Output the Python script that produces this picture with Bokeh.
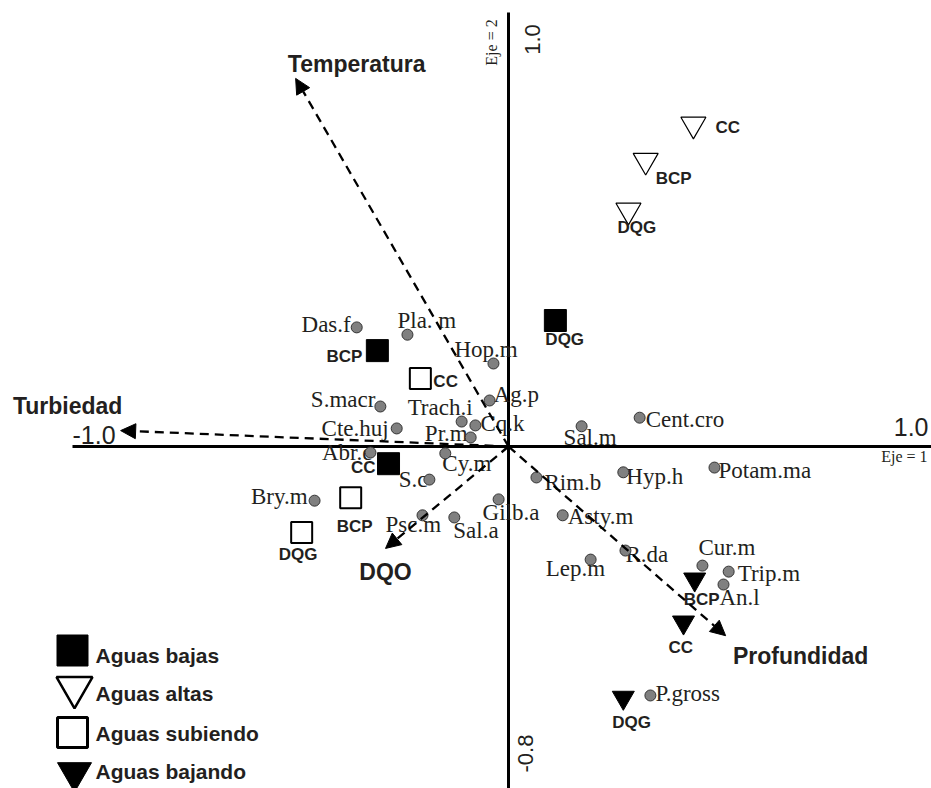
from bokeh.plotting import figure
from bokeh.models import Range1d, Arrow, NormalHead, ColumnDataSource
from bokeh.core.properties import value
from bokeh.embed import file_html
from bokeh.resources import INLINE

# ---------------- data (CCA scores) ----------------
species = ["Das.f", "Pla. m", "Hop.m", "S.macr", "Trach.i", "Ag.p", "Cq.k",
           "Cte.huj", "Pr.m", "Abr.e", "Cy.m", "S.c", "Bry.m", "Psc.m",
           "Sal.a", "Gilb.a", "Sal.m", "Cent.cro", "Rim.b", "Hyp.h",
           "Potam.ma", "Asty.m", "Lep.m", "R.da", "Cur.m", "Trip.m", "An.l",
           "P.gross"]
species_x = [-0.353, -0.235, -0.035, -0.298, -0.109, -0.044, -0.077,
             -0.260, -0.088, -0.321, -0.147, -0.184, -0.451, -0.200,
             -0.126, -0.023, 0.170, 0.305, 0.065, 0.267,
             0.479, 0.126, 0.191, 0.272, 0.451, 0.512, 0.500,
             0.330]
species_y = [0.277, 0.260, 0.193, 0.093, 0.058, 0.107, 0.049,
             0.042, 0.021, -0.014, -0.016, -0.077, -0.126, -0.160,
             -0.165, -0.123, 0.047, 0.067, -0.072, -0.060,
             -0.049, -0.160, -0.263, -0.242, -0.277, -0.291, -0.321,
             -0.579]

sites = ["BCP", "CC", "DQG"]
bajas_x = [-0.305, -0.279, 0.109]
bajas_y = [0.223, -0.040, 0.293]
altas_x = [0.319, 0.430, 0.279]
altas_y = [0.665, 0.749, 0.549]
subiendo_x = [-0.367, -0.205, -0.481]
subiendo_y = [-0.119, 0.158, -0.200]
bajando_x = [0.433, 0.407, 0.267]
bajando_y = [-0.309, -0.409, -0.584]

env_names = ["Temperatura", "Turbiedad", "DQO", "Profundidad"]
env_x = [-0.495, -0.902, -0.286, 0.505]
env_y = [0.856, 0.037, -0.237, -0.440]

x_tick_labels = ["-1.0", "1.0"]
y_tick_labels = ["1.0", "-0.8"]
axis_names = ["Eje = 1", "Eje = 2"]
legend_labels = ["Aguas bajas", "Aguas altas", "Aguas subiendo", "Aguas bajando"]

# ---------------- layout / style ----------------
W, H = 931, 788
OX, OY = 508, 446          # origin on the page (px)
K = 430.0                  # px per unit
BASE_CORR = 0.35           # baseline correction (fraction of font size)


def px2x(px):
    return (px - OX) / K


def px2y(py):
    return (OY - py) / K


def corr(fs):
    return -BASE_CORR * fs


x0r, x1r = px2x(0), px2x(W)
y1r, y0r = px2y(0), px2y(H)

TXT = "#231f20"
SANS = value("Liberation Sans")
SERIF = value("Liberation Serif")

# species label placement: (align, dx, dy) screen px, dy down, alphabetic baseline
sp_place = [("right", -6, 5), ("left", -10, -6), ("left", -39, -6), ("right", -5, 1),
            ("left", -54, -6), ("left", 4, 2), ("left", 5, 6), ("right", -8, 8),
            ("right", -3, 4), ("right", 2, 8), ("left", -3, 18), ("right", -2, 8),
            ("right", -7, 4), ("left", -37, 17), ("left", -1, 21), ("left", -16, 21),
            ("left", -18, 19), ("left", 6, 10), ("left", 8, 13), ("left", 3, 12),
            ("left", 4, 11), ("left", 5, 9), ("left", -45, 17), ("left", 0, 12),
            ("left", -4, -10), ("left", 9, 10), ("left", -4, 21), ("left", 5, 6)]

# site label placement (order BCP, CC, DQG)
bajas_place = [("right", -15, 12), ("right", -13, 10), ("left", -10, 25)]
altas_place = [("left", 10, 24), ("left", 22, 9), ("left", -11, 23)]
subiendo_place = [("left", -14, 35), ("left", 13, 9), ("left", -23, 28)]
bajando_place = [("left", -11, 26), ("left", -15, 31), ("left", -11, 31)]

env_label_off = [(61, -6), (-53, -17), (0, 32), (75, 28)]

p = figure(width=W, height=H, x_range=Range1d(x0r, x1r), y_range=Range1d(y0r, y1r),
           output_backend="svg", toolbar_location=None,
           x_axis_type=None, y_axis_type=None, min_border=0,
           outline_line_color=None, background_fill_color="white",
           border_fill_color="white")
p.grid.visible = False

# axes lines
p.segment(x0=[px2x(72), 0], y0=[0, px2y(12)], x1=[x1r, 0], y1=[0, y0r],
          line_width=3, line_color="black")

# environmental arrows
for ex, ey in zip(env_x, env_y):
    p.add_layout(Arrow(end=NormalHead(size=15, fill_color="black", line_color="black", line_width=1),
                       x_start=0, y_start=0, x_end=ex, y_end=ey,
                       line_width=2.3, line_dash="9 6", line_color="black"))

p.text(x=env_x, y=env_y, text=env_names,
       x_offset=[o[0] for o in env_label_off],
       y_offset=[o[1] + corr(23) for o in env_label_off],
       text_align="center", text_baseline="alphabetic",
       text_font=SANS, text_font_style="bold", text_font_size="23px", text_color=TXT)


def labels(xs, ys, names, place, font, fs, style):
    for al in ("left", "right"):
        idx = [i for i, pl in enumerate(place) if pl[0] == al]
        if not idx:
            continue
        src = ColumnDataSource(dict(
            x=[xs[i] for i in idx], y=[ys[i] for i in idx], t=[names[i] for i in idx],
            dx=[place[i][1] for i in idx], dy=[place[i][2] + corr(fs) for i in idx]))
        p.text(x="x", y="y", text="t", x_offset="dx", y_offset="dy", source=src,
               text_align=al, text_baseline="alphabetic", text_font=font,
               text_font_size=f"{fs}px", text_font_style=style, text_color=TXT)


# species
labels(species_x, species_y, species, sp_place, SERIF, 23, "normal")
p.scatter(species_x, species_y, marker="circle", size=11,
          fill_color="#808080", line_color="#333333", line_width=1)

# sites
p.scatter(bajas_x, bajas_y, marker="square", size=22, fill_color="black", line_color="black")
p.scatter(altas_x, altas_y, marker="inverted_triangle", size=25, fill_color=None,
          line_color="black", line_width=1.2)
p.scatter(subiendo_x, subiendo_y, marker="square", size=21, fill_color=None,
          line_color="black", line_width=2)
p.scatter(bajando_x, bajando_y, marker="inverted_triangle", size=22,
          fill_color="black", line_color="black")
for xs, ys, pl in ((bajas_x, bajas_y, bajas_place), (altas_x, altas_y, altas_place),
                   (subiendo_x, subiendo_y, subiendo_place), (bajando_x, bajando_y, bajando_place)):
    labels(xs, ys, sites, pl, SANS, 17, "bold")

# tick labels and axis names
p.text(x=[px2x(72)], y=[0], text=[x_tick_labels[0]], y_offset=[-3 + corr(25)],
       text_align="left", text_baseline="alphabetic", text_font=SANS,
       text_font_size="25px", text_color=TXT)
p.text(x=[x1r], y=[0], text=[x_tick_labels[1]], x_offset=[-3], y_offset=[-11 + corr(25)],
       text_align="right", text_baseline="alphabetic", text_font=SANS,
       text_font_size="25px", text_color=TXT)
p.text(x=[x1r], y=[0], text=[axis_names[0]], x_offset=[-4], y_offset=[16 + corr(16)],
       text_align="right", text_baseline="alphabetic", text_font=SERIF,
       text_font_size="16px", text_color=TXT)
# rotated (counter-clockwise): baseline correction acts along screen x
p.text(x=[0], y=[px2y(39)], text=[y_tick_labels[0]], x_offset=[32 + corr(22)],
       angle=1.5708, text_align="center", text_baseline="alphabetic", text_font=SANS,
       text_font_size="22px", text_color=TXT)
p.text(x=[0], y=[px2y(42)], text=[axis_names[1]], x_offset=[-11 + corr(16)],
       angle=1.5708, text_align="center", text_baseline="alphabetic", text_font=SERIF,
       text_font_size="16px", text_color=TXT)
p.text(x=[0], y=[px2y(753)], text=[y_tick_labels[1]], x_offset=[25 + corr(22)],
       angle=1.5708, text_align="center", text_baseline="alphabetic", text_font=SANS,
       text_font_size="22px", text_color=TXT)

# legend
leg_px_y = [650, 687, 732, 772]
leg_base_y = [662, 700, 740, 778]
lx = px2x(72)
p.scatter([lx], [px2y(leg_px_y[0])], marker="square", size=31, fill_color="black", line_color="black")
p.scatter([px2x(74)], [px2y(leg_px_y[1])], marker="inverted_triangle", size=36, fill_color=None,
          line_color="black", line_width=2.5)
p.scatter([lx], [px2y(leg_px_y[2])], marker="square", size=30, fill_color=None,
          line_color="black", line_width=3)
p.scatter([px2x(74)], [px2y(leg_px_y[3])], marker="inverted_triangle", size=34,
          fill_color="black", line_color="black")
p.text(x=[px2x(95)] * 4, y=[px2y(b) for b in leg_base_y], text=legend_labels,
       y_offset=[corr(21)] * 4,
       text_align="left", text_baseline="alphabetic", text_font=SANS,
       text_font_style="bold", text_font_size="21px", text_color=TXT)

open("out.html", "w").write(file_html(p, INLINE))
